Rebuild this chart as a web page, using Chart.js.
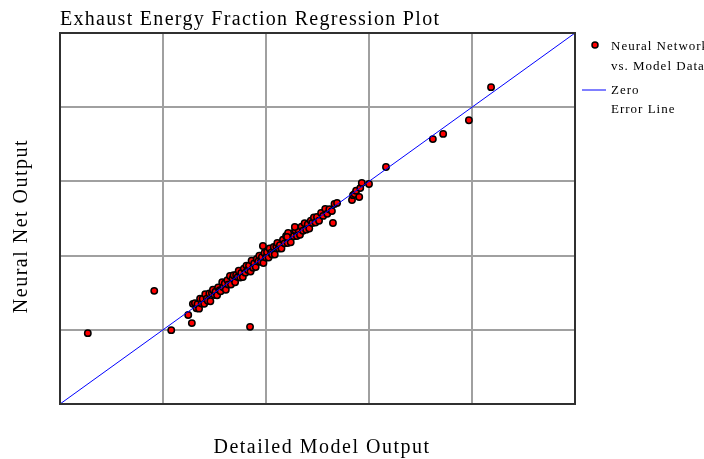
<!DOCTYPE html>
<html>
<head>
<meta charset="utf-8">
<script src="https://cdn.jsdelivr.net/npm/chart.js@4/dist/chart.umd.min.js"></script>
<style>
  html, body { margin: 0; padding: 0; background: #ffffff; }
  #wrap { position: relative; width: 704px; height: 459px; }
</style>
</head>
<body>
<div id="wrap"><canvas id="c" width="704" height="459"></canvas></div>
<script>
// ---- data ----
const chartTitle = "Exhaust Energy Fraction Regression Plot";
const xAxisTitle = "Detailed Model Output";
const yAxisTitle = "Neural Net Output";
const seriesNames = ["Neural Network vs. Model Data", "Zero Error Line"];
const axisMin = 0, axisMax = 1, axisStep = 0.2;

// detailed model output (x) of each sample
const modelOutput = [
  // isolated points
  0.054, 0.183, 0.216, 0.249, 0.256, 0.369, 0.394, 0.530,
  0.633, 0.724, 0.744, 0.794, 0.837,
  // main band
  0.258, 0.265,
  0.262, 0.265, 0.267, 0.270, 0.272, 0.275, 0.277, 0.280, 0.282, 0.285,
  0.287, 0.290, 0.292, 0.295, 0.297, 0.300, 0.302, 0.305, 0.307, 0.310,
  0.312, 0.315, 0.317, 0.320, 0.322, 0.325, 0.327, 0.330, 0.332, 0.335,
  0.337, 0.340, 0.342, 0.345, 0.347, 0.350, 0.352, 0.355, 0.357, 0.360,
  0.362, 0.365, 0.367, 0.370, 0.372, 0.375, 0.377, 0.380, 0.382, 0.385,
  0.387, 0.390, 0.392, 0.395, 0.397, 0.400, 0.402, 0.405, 0.407, 0.410,
  0.412, 0.415, 0.417, 0.420, 0.422, 0.425, 0.427, 0.430, 0.433, 0.436,
  0.439, 0.442, 0.445, 0.448, 0.451, 0.454, 0.457, 0.460, 0.463, 0.466,
  0.469, 0.472, 0.475, 0.478, 0.481, 0.484, 0.487, 0.490, 0.493, 0.496,
  0.499, 0.503, 0.507, 0.511, 0.515, 0.519, 0.523, 0.528, 0.533, 0.538,
  0.456, 0.443, 0.441,
  // upper group
  0.567, 0.569, 0.572, 0.575, 0.581, 0.583, 0.586, 0.600
];
// neural net output (y) of each sample
const netOutput = [
  0.191, 0.305, 0.199, 0.240, 0.218, 0.208, 0.426, 0.488,
  0.639, 0.714, 0.728, 0.765, 0.854,
  0.270, 0.262,
  0.272, 0.258, 0.269, 0.257, 0.284, 0.271, 0.283, 0.270, 0.296, 0.284,
  0.278, 0.298, 0.277, 0.299, 0.308, 0.294, 0.303, 0.293, 0.314, 0.307,
  0.304, 0.328, 0.315, 0.325, 0.308, 0.334, 0.322, 0.345, 0.322, 0.338,
  0.347, 0.328, 0.348, 0.342, 0.359, 0.341, 0.353, 0.342, 0.365, 0.354,
  0.373, 0.361, 0.373, 0.357, 0.386, 0.367, 0.379, 0.369, 0.391, 0.384,
  0.400, 0.383, 0.396, 0.380, 0.407, 0.395, 0.409, 0.395, 0.419, 0.408,
  0.403, 0.423, 0.403, 0.425, 0.434, 0.419, 0.428, 0.419, 0.443, 0.433,
  0.453, 0.434, 0.449, 0.436, 0.460, 0.452, 0.468, 0.453, 0.469, 0.456,
  0.478, 0.467, 0.487, 0.470, 0.484, 0.473, 0.494, 0.488, 0.503, 0.489,
  0.504, 0.494, 0.515, 0.507, 0.526, 0.513, 0.525, 0.520, 0.539, 0.542,
  0.477, 0.461, 0.450,
  0.550, 0.563, 0.566, 0.575, 0.558, 0.582, 0.596, 0.593
];
const zeroLineX = [0, 1];
const zeroLineY = [0, 1];

// ---- build chart ----
const scatterPts = modelOutput.map((v, i) => ({ x: v, y: netOutput[i] }));
const linePts = zeroLineX.map((v, i) => ({ x: v, y: zeroLineY[i] }));
const serif = "'Liberation Serif', 'DejaVu Serif', serif";

const decorPlugin = {
  id: 'decor',
  afterDraw(chart) {
    const ctx = chart.ctx;
    const a = chart.chartArea;
    ctx.save();
    // frame
    ctx.strokeStyle = '#303030';
    ctx.lineWidth = 2;
    ctx.strokeRect(a.left, a.top, a.right - a.left, a.bottom - a.top);
    ctx.fillStyle = '#000';
    ctx.textBaseline = 'alphabetic';
    // title
    ctx.font = "20px " + serif;
    ctx.letterSpacing = '1.3px';
    ctx.textAlign = 'left';
    ctx.fillText(chartTitle, a.left, 25);
    // x axis title
    ctx.letterSpacing = '1.5px';
    ctx.textAlign = 'center';
    ctx.fillText(xAxisTitle, 322, 453);
    // y axis title
    ctx.save();
    ctx.translate(27, 226);
    ctx.rotate(-Math.PI / 2);
    ctx.fillText(yAxisTitle, 0, 0);
    ctx.restore();
    // legend
    ctx.font = "13px " + serif;
    ctx.letterSpacing = '1px';
    ctx.textAlign = 'left';
    ctx.beginPath();
    ctx.arc(595, 45, 3, 0, Math.PI * 2);
    ctx.fillStyle = '#ff0000';
    ctx.fill();
    ctx.lineWidth = 1.5;
    ctx.strokeStyle = '#000';
    ctx.stroke();
    ctx.fillStyle = '#000';
    const n1 = seriesNames[0].split(' vs. ');
    ctx.fillText(n1[0], 611, 50);
    ctx.fillText('vs. ' + n1[1], 611, 70);
    ctx.beginPath();
    ctx.moveTo(582, 90);
    ctx.lineTo(606, 90);
    ctx.strokeStyle = '#0000ff';
    ctx.lineWidth = 1;
    ctx.stroke();
    const n2 = seriesNames[1].split(' ');
    ctx.fillText(n2[0], 611, 94);
    ctx.fillText(n2[1] + ' ' + n2[2], 611, 113);
    ctx.restore();
  }
};

new Chart(document.getElementById('c'), {
  type: 'scatter',
  data: {
    datasets: [
      {
        label: seriesNames[1],
        type: 'line',
        data: linePts,
        borderColor: '#0000ff',
        borderWidth: 1,
        pointRadius: 0,
        fill: false,
        order: 0
      },
      {
        label: seriesNames[0],
        data: scatterPts,
        backgroundColor: '#ff0000',
        borderColor: '#000000',
        borderWidth: 1.5,
        pointRadius: 3.2,
        order: 1
      }
    ]
  },
  options: {
    responsive: false,
    animation: false,
    layout: { padding: { left: 60, right: 129, top: 33, bottom: 55 } },
    plugins: { legend: { display: false }, tooltip: { enabled: false }, title: { display: false } },
    scales: {
      x: {
        type: 'linear', min: axisMin, max: axisMax,
        ticks: { display: false, stepSize: axisStep },
        grid: { color: '#a0a0a0', lineWidth: 2, drawTicks: false },
        border: { display: false }
      },
      y: {
        type: 'linear', min: axisMin, max: axisMax,
        ticks: { display: false, stepSize: axisStep },
        grid: { color: '#a0a0a0', lineWidth: 2, drawTicks: false },
        border: { display: false }
      }
    }
  },
  plugins: [decorPlugin]
});
</script>
</body>
</html>
